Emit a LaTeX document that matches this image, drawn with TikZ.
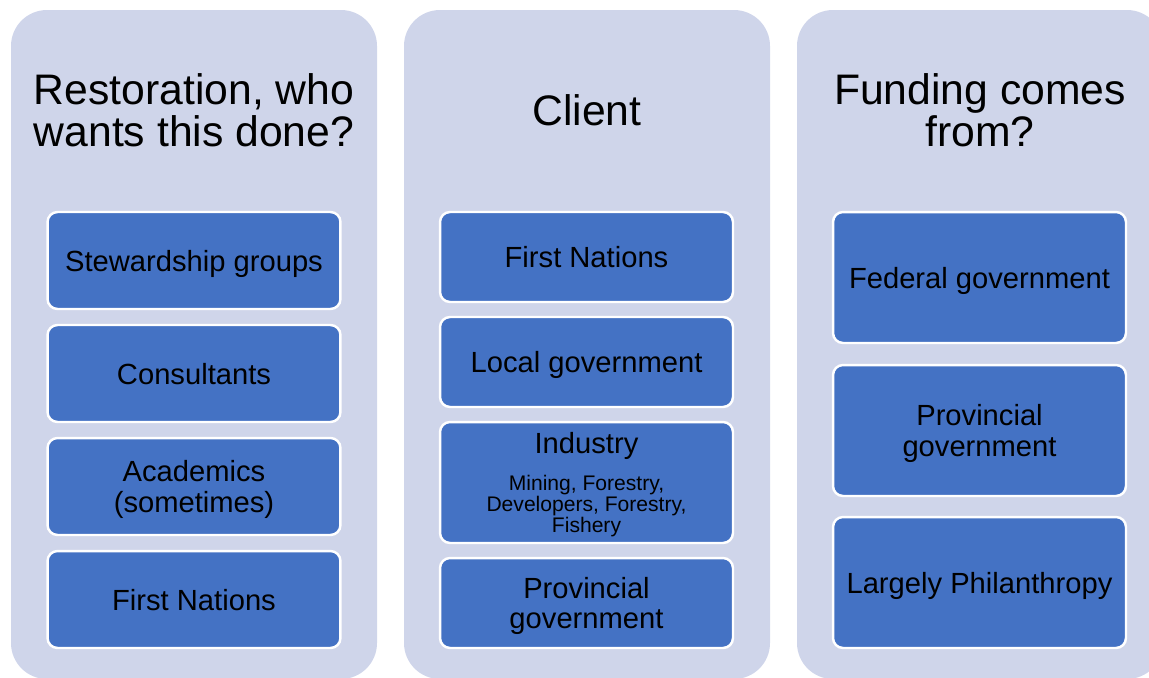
\documentclass[tikz,border=0pt]{standalone}
\usepackage{fontspec}
\setmainfont{Liberation Sans}
\definecolor{cpanel}{HTML}{CFD5EA}
\definecolor{cblue}{HTML}{4472C4}
\newcommand{\headfont}{\fontsize{24.3}{23.8}\selectfont}
\newcommand{\itemfont}{\fontsize{16.6}{17.2}\selectfont}
\newcommand{\subfont}{\fontsize{12}{12.2}\selectfont}

\begin{document}
\begin{tikzpicture}[x=0.02cm,y=-0.02cm,
    head/.style={align=center,font=\headfont},
    item/.style={draw=white,line width=1.4pt,fill=cblue,rounded corners=0.2cm,
      minimum width=5.86cm,align=center,font=\itemfont,inner sep=0pt,
      text depth=0pt}]
  \clip (0,0) rectangle (1149,677);
  % the three columns
  \foreach \x in {11,404,797}
    \fill[cpanel,rounded corners=0.72cm] (\x,10) rectangle (\x+366,679);
  \node[head] (who) at (194,110) {Restoration, who\\wants this done?};
  \node[head] (client) at (587,110) {Client};
  \node[head] (fund) at (980,110) {Funding comes\\from?};
  % who wants it
  \foreach \y/\t [count=\i] in {260.5/Stewardship groups,373.5/Consultants,
      486.5/{Academics\\(sometimes)},599.5/First Nations}
    \node[item,minimum height=1.94cm] (who\i) at (194,\y) {\t};
  % clients
  \node[item,minimum height=1.8cm] (cli1) at (586.5,257) {First Nations};
  \node[item,minimum height=1.8cm] (cli2) at (586.5,362) {Local government};
  \node[item,minimum height=2.42cm] (cli3) at (586.5,482.5) {};
  \node[font=\itemfont] (indname) at (586.5,446) {Industry};
  \node[align=center,font=\subfont] (indsub) at (586.5,506)
    {Mining, Forestry,\\Developers, Forestry,\\Fishery};
  \node[item,minimum height=1.8cm] (cli4) at (586.5,603) {Provincial\\government};
  % funding
  \foreach \y/\t [count=\i] in {277.5/Federal government,
      430.5/{Provincial\\government},582.5/Largely Philanthropy}
    \node[item,minimum height=2.62cm] (fund\i) at (979.5,\y) {\t};
\end{tikzpicture}
\end{document}
